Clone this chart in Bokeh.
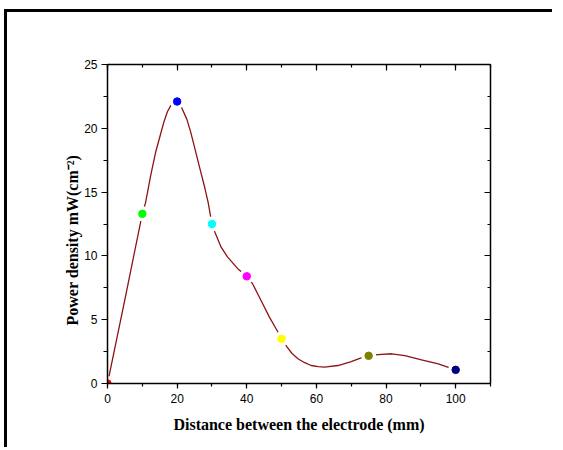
from bokeh.plotting import figure
from bokeh.models import LinearAxis, SingleIntervalTicker, CustomJSTickFormatter, Range1d, ColumnDataSource, Title
from bokeh.embed import file_html
from bokeh.resources import INLINE

# measured points
distance = [0, 10, 20, 30, 40, 50, 75, 100]
power = [0.0, 13.3, 22.1, 12.5, 8.4, 3.5, 2.17, 1.07]
colors = ["#FF0000", "#00FF00", "#0000FF", "#00FFFF", "#FF00FF", "#FFFF00", "#808000", "#000080"]

# smooth fitted curve
curve_x = [0, 5, 10, 10.95, 12.4, 13.8, 15.1, 16.2, 17.2, 18.2, 19.1, 20, 20.8, 21.5, 22.8, 23.9, 25.1,
           26.3, 27.8, 28.9, 30, 30.8, 32.6, 34.5, 37.4, 40, 41.7, 44.1, 46.5, 48.7, 50,
           51.6, 53.0, 54.7, 56.5, 58.5, 60.5, 62.3, 66.2, 70.0, 73.4, 75, 77.7, 81.6,
           85.4, 90.2, 95.0, 100]
curve_y = [0, 6.6, 13.3, 14.2, 16.3, 18.1, 19.4, 20.5, 21.3, 21.8, 22.05, 22.1, 21.9, 21.5, 20.7, 19.7, 18.4,
           17.1, 15.5, 14.2, 12.5, 11.9, 10.7, 9.9, 9.0, 8.4, 7.8, 6.5, 5.2, 4.15, 3.5,
           2.85, 2.35, 1.94, 1.65, 1.41, 1.32, 1.28, 1.41, 1.72, 2.06, 2.17, 2.27, 2.33,
           2.19, 1.86, 1.54, 1.07]

x_label = "Distance between the electrode (mm)"
y_label = "Power density mW(cm\u207b\u00b2)"

W, H = 548, 438
p = figure(width=W, height=H, output_backend="svg", toolbar_location=None,
           x_range=Range1d(0, 110), y_range=Range1d(0, 25),
           min_border_left=100, min_border_top=52, min_border_right=65, min_border_bottom=67)
p.styles = {"border-top": "3px solid black", "border-left": "3px solid black",
            "margin-left": "4px", "margin-top": "9px"}
p.outline_line_color = None
p.grid.visible = False
p.background_fill_color = "white"
p.border_fill_color = "white"

p.line(curve_x, curve_y, line_color="#8B1414", line_width=1.3)
src = ColumnDataSource(dict(x=distance, y=power, c=colors))
p.scatter("x", "y", source=src, size=15, fill_color="white", line_color=None)
p.scatter("x", "y", source=src, size=7.5, fill_color="c", line_color="c")

tick_font = "Liberation Sans"
label_font = "Liberation Serif"

xa = p.xaxis[0]
xa.ticker = SingleIntervalTicker(interval=20, num_minor_ticks=2)
ya = p.yaxis[0]
ya.ticker = SingleIntervalTicker(interval=5, num_minor_ticks=2)
for ax in (xa, ya):
    ax.axis_line_width = 1.5
    ax.axis_line_color = "black"
    ax.major_tick_line_color = "black"
    ax.minor_tick_line_color = "black"
    ax.major_tick_line_width = 1.2
    ax.minor_tick_line_width = 1.2
    ax.major_tick_in = 0
    ax.minor_tick_in = 0
    ax.major_label_text_font = tick_font
    ax.major_label_text_font_size = "12px"
    ax.major_label_text_color = "black"
    ax.axis_label_text_font = label_font
    ax.axis_label_text_font_style = "bold"
    ax.axis_label_text_font_size = "16px"
    ax.axis_label_text_color = "black"
xa.major_tick_out = 5
xa.minor_tick_out = 3
xa.major_label_standoff = 5
xa.axis_label = x_label
xa.axis_label_standoff = 10
ya.major_tick_out = 6
ya.minor_tick_out = 4
ya.major_label_standoff = 4

# y title as a side title so it can sit lower, as in the original
ytitle = Title(text=y_label, align="left", offset=58, standoff=2,
               text_font=label_font, text_font_style="bold", text_font_size="16px",
               text_color="black")
p.add_layout(ytitle, "left")

empty = CustomJSTickFormatter(code="return ''")
top = LinearAxis(ticker=SingleIntervalTicker(interval=20, num_minor_ticks=2), formatter=empty)
right = LinearAxis(ticker=SingleIntervalTicker(interval=5, num_minor_ticks=2), formatter=empty)
for ax in (top, right):
    ax.axis_line_width = 1.5
    ax.axis_line_color = "black"
    ax.major_tick_line_color = "black"
    ax.minor_tick_line_color = "black"
    ax.major_tick_line_width = 1.2
    ax.minor_tick_line_width = 1.2
    ax.major_tick_out = 0
    ax.minor_tick_out = 0
    ax.major_tick_in = 6
    ax.minor_tick_in = 3
p.add_layout(top, "above")
p.add_layout(right, "right")

open("out.html", "w").write(file_html(p, INLINE))
